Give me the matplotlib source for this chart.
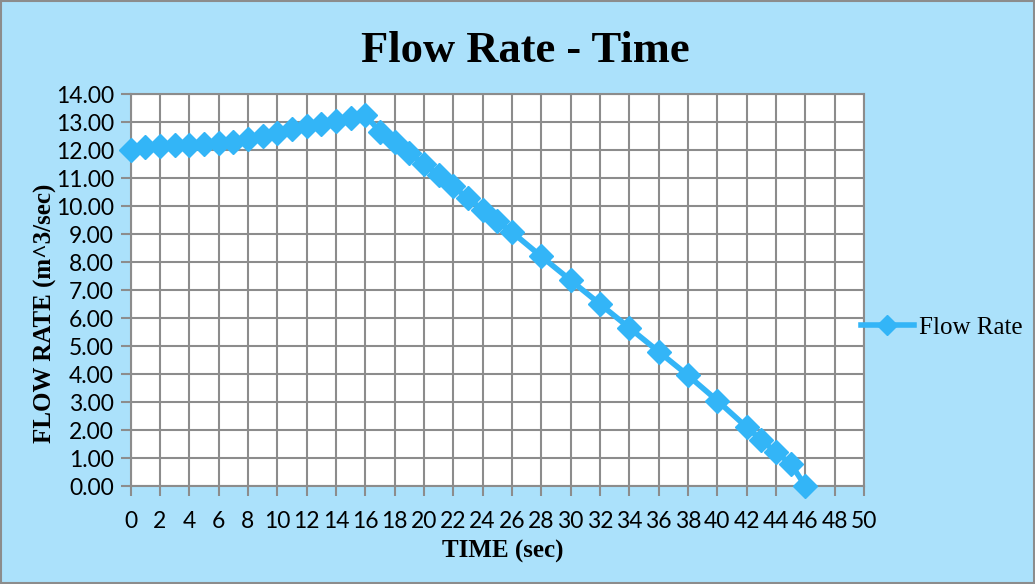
import matplotlib.pyplot as plt
import numpy as np

# time (sec) and flow rate (m^3/sec)
time_sec = [0, 1, 2, 3, 4, 5, 6, 7, 8, 9, 10, 11, 12, 13, 14, 15, 16,
            17, 18, 19, 20, 21, 22, 23, 24, 25, 26,
            28, 30, 32, 34, 36, 38, 40, 42, 43, 44, 45, 46]
flow_rate = [12.00, 12.10, 12.14, 12.17, 12.19, 12.21, 12.25, 12.30, 12.39, 12.49,
             12.61, 12.74, 12.86, 12.94, 13.03, 13.14, 13.25,
             12.66, 12.29, 11.90, 11.50, 11.10, 10.70, 10.28, 9.87, 9.47, 9.07,
             8.20, 7.35, 6.50, 5.65, 4.80, 3.95, 3.05, 2.10, 1.65, 1.20, 0.80, 0.00]

x_ticks = np.arange(0, 51, 2)
y_ticks = np.arange(0, 14.01, 1)

BG = '#abe1fb'
LINE = '#33b5f7'
GRID = '#8c8c8c'

fig = plt.figure(figsize=(10.35, 5.84), dpi=100, facecolor=BG)

ax = fig.add_axes([0.1261, 0.1678, 0.7087, 0.6712])
ax.set_facecolor('white')

ax.plot(time_sec, flow_rate, color=LINE, lw=4, marker='D', ms=12,
        mec=LINE, mfc=LINE, label='Flow Rate', zorder=3, clip_on=False)

ax.set_xlim(0, 50)
ax.set_ylim(0, 14)
ax.set_xticks(x_ticks)
ax.set_yticks(y_ticks)
ax.set_yticklabels(['%.2f' % v for v in y_ticks])
ax.grid(True, color=GRID, lw=1.5)
ax.set_axisbelow(True)
for s in ax.spines.values():
    s.set_color(GRID)
    s.set_linewidth(1.5)
ax.tick_params(direction='out', length=7, width=1.5, color=GRID,
               labelsize=16.5)
ax.tick_params(axis='x', pad=11)
ax.tick_params(axis='y', pad=5)
for lab in ax.get_xticklabels() + ax.get_yticklabels():
    lab.set_fontfamily('Lato')

fig.text(0.508, 0.912, 'Flow Rate - Time', ha='center', va='center',
         fontsize=32, fontweight='bold', fontfamily='Liberation Serif')
fig.text(0.4855, 0.055, 'TIME (sec)', ha='center', va='center',
         fontsize=18, fontweight='bold', fontfamily='Liberation Serif')
fig.text(0.044, 0.464, 'FLOW RATE (m^3/sec)', ha='center', va='center',
         rotation=90, fontsize=18, fontweight='bold',
         fontfamily='Liberation Serif')

leg = ax.legend(loc='center left', bbox_to_anchor=(0.996, 0.405), frameon=False,
                prop={'family': 'Liberation Serif', 'size': 18},
                borderaxespad=0, borderpad=0,
                handlelength=2.1, handletextpad=0.2, markerscale=0.85)

# thin grey frame round the whole picture
fig.add_artist(plt.Rectangle((0.001, 0.002), 0.998, 0.996, transform=fig.transFigure,
                             fill=False, edgecolor=GRID, lw=1.5))

fig.savefig('out.png', dpi=100, facecolor=BG)
